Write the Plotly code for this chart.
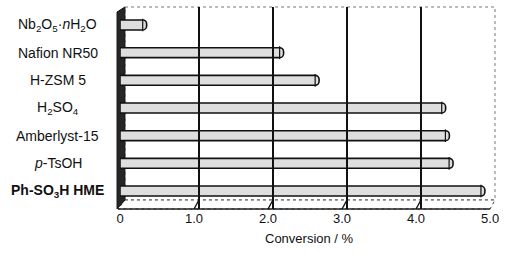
import plotly.graph_objects as go

# ---- data ----
catalysts = [
    "Nb<sub>2</sub>O<sub>5</sub>·<i>n</i>H<sub>2</sub>O",
    "Nafion NR50",
    "H-ZSM 5",
    "H<sub>2</sub>SO<sub>4</sub>",
    "Amberlyst-15",
    "<i>p</i>-TsOH",
    "<b>Ph-SO<sub>3</sub>H HME</b>",
]
conversion = [0.36, 2.21, 2.69, 4.40, 4.45, 4.50, 4.93]
x_ticks = [0, 1, 2, 3, 4, 5]
x_ticktext = ["0", "1.0", "2.0", "3.0", "4.0", "5.0"]
grid_vals = [1, 2, 3, 4]
x_title = "Conversion / %"

W, H = 511, 253
ML, MR, MT, MB = 120, 11, 7, 44
PW, PH = W - ML - MR, H - MT - MB
UNIT = 75  # px per 1 % on the axes


def px(x):
    return (x - ML) / PW


def py(y):
    return (H - MB - y) / PH


FONT = "Arial, Liberation Sans, sans-serif"
order = list(reversed(catalysts))

fig = go.Figure()
fig.add_trace(go.Bar(
    x=conversion, y=catalysts, orientation="h",
    width=0.36,
    marker=dict(color="#dedede", line=dict(color="#111", width=1.6), cornerradius=4),
    xaxis="x", yaxis="y", showlegend=False, hoverinfo="skip",
))
# cylinder end ellipse
fig.add_trace(go.Scatter(
    x=[v - 4 / UNIT for v in conversion], y=catalysts, mode="markers",
    marker=dict(symbol="line-ns", size=9, line=dict(color="#111", width=1.2)),
    xaxis="x", yaxis="y", showlegend=False, hoverinfo="skip",
))
# invisible trace to hold the back-wall grid axis
fig.add_trace(go.Scatter(x=[0], y=[catalysts[0]], xaxis="x2", yaxis="y",
                         mode="markers", marker=dict(opacity=0),
                         showlegend=False, hoverinfo="skip"))

shapes = []
# back wall
shapes.append(dict(type="rect", xref="paper", yref="paper",
                   x0=px(125), x1=px(500), y0=py(200), y1=py(7),
                   line=dict(color="#777", width=1, dash="dot"),
                   fillcolor="rgba(0,0,0,0)", layer="below"))
# floor
shapes.append(dict(type="path", xref="paper", yref="paper",
                   path=f"M {px(125)} {py(200)} L {px(500)} {py(200)} L {px(495)} {py(209)} L {px(118)} {py(209)} Z",
                   line=dict(color="#444", width=1, dash="dot"),
                   fillcolor="white", layer="between"))
# front floor edge
shapes.append(dict(type="line", xref="paper", yref="paper",
                   x0=px(118), x1=px(495), y0=py(209), y1=py(209),
                   line=dict(color="#222", width=1.4), layer="between"))
# floor grid hooks
for v in grid_vals:
    shapes.append(dict(type="line", xref="paper", yref="paper",
                       x0=px(125 + UNIT * v), y0=py(200),
                       x1=px(120 + UNIT * v), y1=py(209),
                       line=dict(color="#111", width=1.4), layer="between"))
# left wall
shapes.append(dict(type="path", xref="paper", yref="paper",
                   path=f"M {px(125)} {py(7)} L {px(117)} {py(12)} L {px(117)} {py(209)} L {px(125)} {py(200)} Z",
                   line=dict(color="#111", width=1),
                   fillcolor="#262626", layer="between"))

annotations = []
for c in catalysts:
    annotations.append(dict(x=px(57), xref="paper", y=c, yref="y",
                            text=c, showarrow=False, xanchor="center", yanchor="middle",
                            font=dict(family=FONT, size=14, color="#111")))
annotations.append(dict(x=px(312), xref="paper", y=py(239), yref="paper",
                        text=x_title, showarrow=False, xanchor="center", yanchor="middle",
                        font=dict(family=FONT, size=13, color="#111")))

fig.update_layout(
    width=W, height=H,
    margin=dict(l=ML, r=MR, t=MT, b=MB, pad=0),
    paper_bgcolor="white", plot_bgcolor="rgba(0,0,0,0)",
    font=dict(family=FONT, size=13, color="#111"),
    xaxis=dict(domain=[0, (495 - ML) / PW], range=[0, 5], tickvals=x_ticks, ticktext=x_ticktext,
               showgrid=False, zeroline=False, showline=False, ticks="",
               tickfont=dict(family=FONT, size=13, color="#111"), anchor="y"),
    xaxis2=dict(domain=[(125 - ML) / PW, 1], range=[0, 5], tickvals=grid_vals,
                showgrid=True, gridcolor="#111", gridwidth=1.6, zeroline=False,
                showticklabels=False, showline=False, ticks="", anchor="y"),
    yaxis=dict(type="category", categoryorder="array", categoryarray=order,
               range=[-0.65, 6.65], showgrid=False, zeroline=False, showline=False,
               showticklabels=False, ticks=""),
    shapes=shapes, annotations=annotations,
)

fig.write_html("out.html", config={"displayModeBar": False, "staticPlot": True},
               post_script="document.body.style.margin='0';")
